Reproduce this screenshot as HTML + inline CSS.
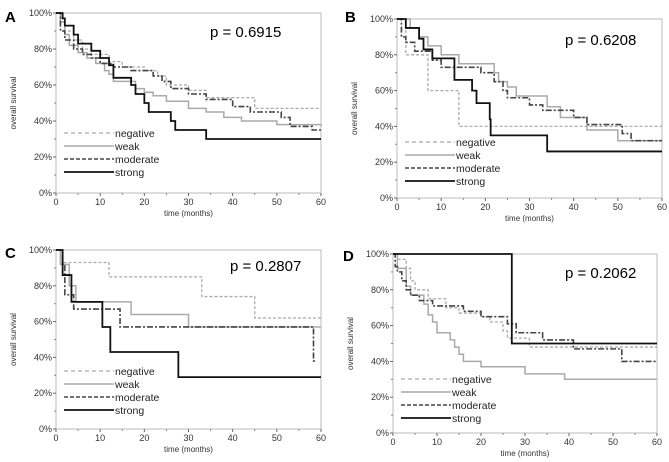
<!DOCTYPE html>
<html><head><meta charset="utf-8"><style>
html,body{margin:0;padding:0;background:#fff}
svg{display:block;font-family:"Liberation Sans",Arial,sans-serif}
</style></head><body>
<svg id="c" width="669" height="462" viewBox="0 0 669 462" xmlns="http://www.w3.org/2000/svg"></svg>
<script>
const xTicks=[0,10,20,30,40,50,60];
const yTicks=[0,20,40,60,80,100];
const seriesNames=["negative","weak","moderate","strong"];
const panelLabels=["A","B","C","D"];
const pValues=["p = 0.6915","p = 0.6208","p = 0.2807","p = 0.2062"];
// step points: [time, survival%]
const aNegative=[[0,100],[1,95],[2,90],[4,85],[6,80],[8,77],[12,73],[15,70],[20,68],[23,65],[25,60],[30,57],[34,53],[45,47],[60,47]];
const aWeak=[[0,100],[1,95],[2,88],[3,82],[5,78],[7,75],[9,72],[11,68],[12,66],[13,62],[18,58],[20,56],[22,54],[25,51],[30,47],[34,45],[38,42],[42,40],[50,38],[60,37]];
const aModerate=[[0,100],[1,90],[2,85],[4,80],[6,77],[8,75],[10,72],[13,70],[17,68],[22,65],[24,62],[26,58],[30,55],[34,52],[40,48],[44,45],[51,42],[53,37],[58,35],[60,35]];
const aStrong=[[0,100],[1.5,97],[2,93],[4,88],[5,83],[8,79],[10,75],[12,71],[13,64],[17,60],[18,55],[20,50],[21,45],[26,40],[27,35],[34,30],[60,30]];
const bNegative=[[0,100],[2,80],[7,60],[14,40],[60,40]];
const bWeak=[[0,100],[3,95],[5,90],[7,85],[10,80],[14,75],[22,70],[23,65],[25,62],[27,57],[34,51],[37,45],[43,38],[50,32],[60,32]];
const bModerate=[[0,100],[1,90],[2,87],[4,82],[8,77],[10,73],[19,70],[22,65],[24,60],[25,56],[30,52],[33,49],[40,45],[43,41],[51,36],[53,32],[60,32]];
const bStrong=[[0,100],[2,95],[5,89],[6,83],[8,78],[13,66],[17,60],[18,53],[21,44],[21.2,35],[34,26],[60,26]];
const cNegative=[[0,100],[1,93],[12,85],[33,74],[45,62],[60,62]];
const cWeak=[[0,100],[1,92],[3,80],[4.5,71],[17,64],[30,57],[60,57]];
const cModerate=[[0,100],[1.5,92],[2,75],[4,67],[14.5,57],[58,57],[58.3,38],[59,38]];
const cStrong=[[0,100],[1.5,86],[3.5,71],[10.5,57],[12.3,43],[27.7,29],[60,29]];
const dNegative=[[0,100],[1,97],[3,92],[4,85],[5,80],[8,75],[12,70],[15,67],[20,65],[22,62],[25,57],[26,53],[31,48],[60,48]];
const dWeak=[[0,100],[1,92],[3,82],[4,77],[7,72],[8,66],[9,62],[10,56],[13,52],[14,48],[15,44],[16,40],[20,37],[30,33],[39,30],[60,30]];
const dModerate=[[0,100],[0.5,93],[1,90],[2,85],[3,80],[4,77],[6,74],[9,71],[16,68],[20,65],[26,61],[28,56],[34,52],[41,47],[52,40],[60,40]];
const dStrong=[[0,100],[27,50],[60,50]];
const panelData=[[aNegative,aWeak,aModerate,aStrong],[bNegative,bWeak,bModerate,bStrong],[cNegative,cWeak,cModerate,cStrong],[dNegative,dWeak,dModerate,dStrong]];

const geom=[
 {x0:56,x1:321,y0:193,y1:13,lx:5,ly:22,px:154,py:24,lg:60},
 {x0:397,x1:662,y0:198,y1:19,lx:345,ly:22,px:168,py:26,lg:56},
 {x0:56,x1:321,y0:429,y1:250,lx:5,ly:258,px:174,py:21,lg:58},
 {x0:393,x1:657,y0:433,y1:254,lx:343,ly:261,px:172,py:24,lg:54}];
const styles=[{c:"#aaa",w:1.3,d:"3,2"},{c:"#aaa",w:1.5,d:""},{c:"#444",w:1.6,d:"6,2,2,2"},{c:"#111",w:1.8,d:""}];
const legendDash=["4,3","","4,2",""];
const svg=document.getElementById('c');
const NS="http://www.w3.org/2000/svg";
function mk(t,a,p){const e=document.createElementNS(NS,t);for(const k in a)e.setAttribute(k,a[k]);(p||svg).appendChild(e);return e;}
panelData.forEach((series,pi)=>{
  const g=geom[pi];
  const sx=v=>g.x0+(g.x1-g.x0)*v/60;
  const sy=v=>g.y0+(g.y1-g.y0)*v/100;
  const grp=mk('g',{});
  
  
  const lab=mk('text',{x:g.lx,y:g.ly,'font-size':15,'font-weight':'bold',fill:'#000'},grp);lab.textContent=panelLabels[pi];
  
  const box=mk('rect',{x:g.x0,y:g.y1,width:g.x1-g.x0,height:g.y0-g.y1,fill:'none',stroke:'#bbb','stroke-width':1},grp);
  
  yTicks.forEach(t=>{mk('line',{x1:g.x0-3,x2:g.x0,y1:sy(t),y2:sy(t),stroke:'#666'},grp);
    const tx=mk('text',{x:g.x0-4,y:sy(t)+3,'font-size':9,'text-anchor':'end',fill:'#333'},grp);tx.textContent=t+'%';
    });
  for(let m=10;m<100;m+=20)mk('line',{x1:g.x0-2,x2:g.x0,y1:sy(m),y2:sy(m),stroke:'#888'},grp);
  xTicks.forEach(t=>{mk('line',{x1:sx(t),x2:sx(t),y1:g.y0,y2:g.y0+3,stroke:'#666'},grp);
    const tx=mk('text',{x:sx(t),y:g.y0+12,'font-size':9,'text-anchor':'middle',fill:'#333'},grp);tx.textContent=t;
    });
  for(let m=5;m<60;m+=10)mk('line',{x1:sx(m),x2:sx(m),y1:g.y0,y2:g.y0+2,stroke:'#888'},grp);
  const xt=mk('text',{x:(g.x0+g.x1)/2,y:g.y0+23,'font-size':8,'text-anchor':'middle',fill:'#333'},grp);xt.textContent='time (months)';
  
  const cy=(g.y0+g.y1)/2;
  const yt=mk('text',{x:g.x0-40,y:cy,'font-size':8,'text-anchor':'middle',fill:'#333',transform:`rotate(-90 ${g.x0-40} ${cy})`},grp);yt.textContent='overall survival';
  
  const pv=mk('text',{x:g.x0+g.px,y:g.y1+g.py,'font-size':15,fill:'#000'},grp);pv.textContent=pValues[pi];
  
  series.forEach((pts,si)=>{
    let d='M'+sx(pts[0][0])+','+sy(pts[0][1]);
    for(let i=1;i<pts.length;i++){d+=' H'+sx(pts[i][0])+' V'+sy(pts[i][1]);}
    const s=styles[si];
    const p=mk('path',{d:d,fill:'none',stroke:s.c,'stroke-width':s.w,'stroke-dasharray':s.d},grp);
    
    
  });
  const lx=g.x0+8, ly0=g.y0-g.lg;
  seriesNames.forEach((n,si)=>{
    const y=ly0+si*13;
    const s=styles[si];
    const ll=mk('line',{x1:lx,x2:lx+50,y1:y,y2:y,stroke:s.c,'stroke-width':s.w,'stroke-dasharray':legendDash[si]},grp);
    
    const lt=mk('text',{x:lx+51,y:y+4,'font-size':10.5,fill:'#222'},grp);lt.textContent=n;
    
  });
});
</script>
</body></html>
